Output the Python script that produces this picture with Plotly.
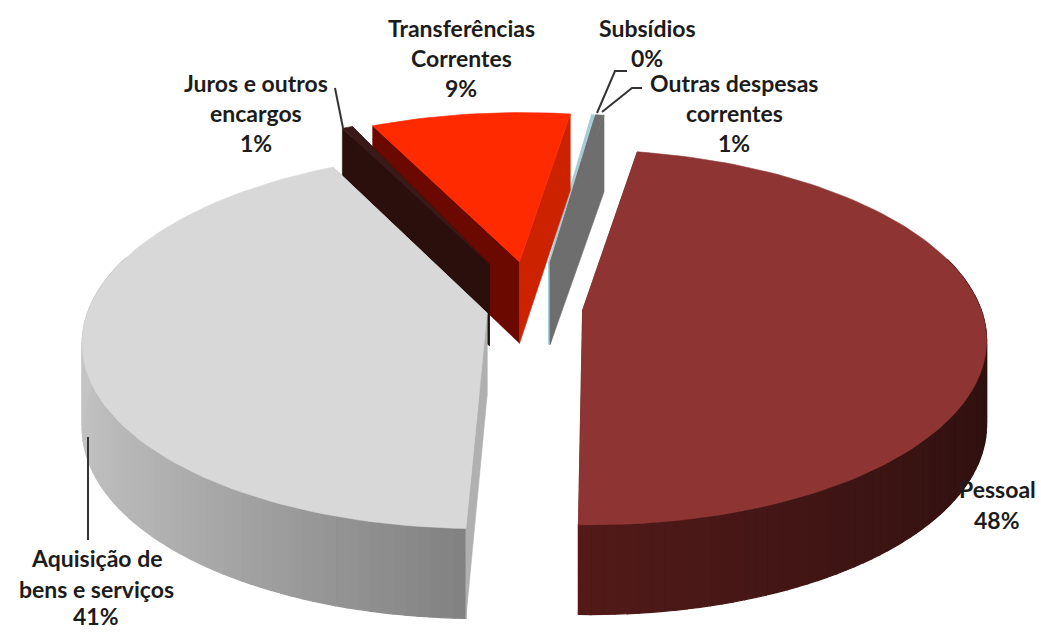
import math
import plotly.graph_objects as go

# ---- data
CATEGORIES = ["Pessoal", "Aquisição de bens e serviços", "Juros e outros encargos",
              "Transferências Correntes", "Subsídios", "Outras despesas correntes"]
SHARES = [48.0, 41.49, 0.5, 9.49, 0.12, 0.4]
PCT_LABELS = ["48%", "41%", "1%", "9%", "0%", "1%"]

# ---- look of the slices
EXPLODE = [0.12, 0.123, 0.275, 0.265, 0.258, 0.258]
NUDGE = [1.5, 0.3, 2.9, 1.7, 1.0, 1.0]
STRETCH = [0.9925, 1.015, 1.0, 1.0, 1.0, 1.0]
TOP = ["#8e3533", "#d8d8d8", "#3a1a18", "#ff2a00", "#a8ccd4", "#6e6e6e"]
FACE_START = ["#5a1a18", "#b0b0b0", "#2a0f0d", "#6b0800", "#a8ccd4", "#6e6e6e"]
FACE_END = ["#5a1a18", "#b0b0b0", "#2a0f0d", "#cc2200", "#a8ccd4", "#6e6e6e"]
WALL_A = [(0x2f, 0x11, 0x10), (0x80, 0x80, 0x80), (0x2a, 0x0f, 0x0d), (0x6b, 0x08, 0x00), (0x6e, 0x6e, 0x6e), (0x6e, 0x6e, 0x6e)]
WALL_B = [(0x52, 0x1a, 0x19), (0xc4, 0xc4, 0xc4), (0x2a, 0x0f, 0x0d), (0x6b, 0x08, 0x00), (0xa8, 0xcc, 0xd4), (0x6e, 0x6e, 0x6e)]
DRAW_ORDER = [4, 5, 3, 2, 1, 0]

START_ANGLE = 8.5
CX, CY, A, B, K, DEPTH = 535.0, 308.0, 398.0, 183.0, 0.144, 83.0


def project(x, f, low=False):
    w = 1 - K * f
    sx = CX + A * x / w
    sy = CY + B * f / w
    if low:
        sy += DEPTH / math.sqrt(w)
    return sx, sy


def point(i, deg, mid, r=1.0, low=False):
    t, m = math.radians(deg), math.radians(mid)
    x = EXPLODE[i] * math.sin(m) + r * math.sin(t)
    f = -EXPLODE[i] * math.cos(m) - r * math.cos(t)
    return project(x, f, low)


def poly(fig, pts, color, lw=1.0):
    xs = [p[0] for p in pts] + [pts[0][0]]
    ys = [p[1] for p in pts] + [pts[0][1]]
    fig.add_trace(go.Scatter(x=xs, y=ys, mode="lines", fill="toself", fillcolor=color,
                             line=dict(color=color, width=lw), hoverinfo="skip", showlegend=False))


fig = go.Figure()
total = sum(SHARES)
bounds, acc = [], START_ANGLE
for i, s in enumerate(SHARES):
    sweep = s / total * 360
    bounds.append((acc + NUDGE[i], acc + NUDGE[i] + sweep * STRETCH[i]))
    acc += sweep

for i in DRAW_ORDER:
    a0, a1 = bounds[i]
    mid = (a0 + a1) / 2
    n = max(2, int((a1 - a0) / 1.5))
    angs = [a0 + (a1 - a0) * j / n for j in range(n + 1)]
    for j in range(n):
        u, v = angs[j], angs[j + 1]
        if math.cos(math.radians((u + v) / 2)) > 0.3:
            continue
        # shade runs along the horizontal position of the wall
        t = (-math.sin(math.radians(u)) + 1) / 2
        t = min(1, max(0, (t - 0.5) * 2)) if i == 1 else min(1, max(0, t * 2))
        c = [round(WALL_A[i][q] + (WALL_B[i][q] - WALL_A[i][q]) * t) for q in range(3)]
        col = "rgb(%d,%d,%d)" % tuple(c)
        poly(fig, [point(i, u, mid), point(i, v, mid), point(i, v, mid, low=True), point(i, u, mid, low=True)], col, 1.2)
    poly(fig, [point(i, a0, mid, 0), point(i, a0, mid), point(i, a0, mid, low=True), point(i, a0, mid, 0, low=True)], FACE_START[i], 0.6)
    poly(fig, [point(i, a1, mid, 0), point(i, a1, mid), point(i, a1, mid, low=True), point(i, a1, mid, 0, low=True)], FACE_END[i], 0.6)
    poly(fig, [point(i, a0, mid, 0)] + [point(i, d, mid) for d in angs], TOP[i], 0.6)

# leader lines
LEADERS = [([88, 88], [437, 540]), ([335, 343], [88, 128]),
           ([597, 615, 627], [113, 71, 71]), ([602, 632, 642], [112, 88, 88])]
for lx, ly in LEADERS:
    fig.add_trace(go.Scatter(x=lx, y=ly, mode="lines", line=dict(color="#333333", width=2),
                             hoverinfo="skip", showlegend=False))

LABEL_LINES = [
    (997, [("Pessoal", 489), (PCT_LABELS[0], 520)]),
    (96, [("Aquisição de", 558), ("bens e serviços", 589), (PCT_LABELS[1], 616)]),
    (256, [("Juros e outros", 83), ("encargos", 113), (PCT_LABELS[2], 143)]),
    (461, [("Transferências", 28), ("Correntes", 58), (PCT_LABELS[3], 88)]),
    (647, [("Subsídios", 28), (PCT_LABELS[4], 58)]),
    (734, [("Outras despesas", 83), ("correntes", 113), (PCT_LABELS[5], 143)]),
]
for x, lines in LABEL_LINES:
    for text, y in lines:
        fig.add_annotation(x=x, y=y, text="<b>%s</b>" % text, showarrow=False, xanchor="center", yanchor="middle",
                           font=dict(family="Lato, Open Sans, sans-serif", size=23, color="#1c1c1c"))

fig.update_layout(width=1041, height=632, margin=dict(l=0, r=0, t=0, b=0), paper_bgcolor="white",
                  plot_bgcolor="white", showlegend=False,
                  xaxis=dict(range=[0, 1041], visible=False, fixedrange=True),
                  yaxis=dict(range=[632, 0], visible=False, fixedrange=True))
fig.write_html("out.html", config={"displayModeBar": False},
               post_script="document.body.style.margin='0';document.body.style.overflow='hidden';")
